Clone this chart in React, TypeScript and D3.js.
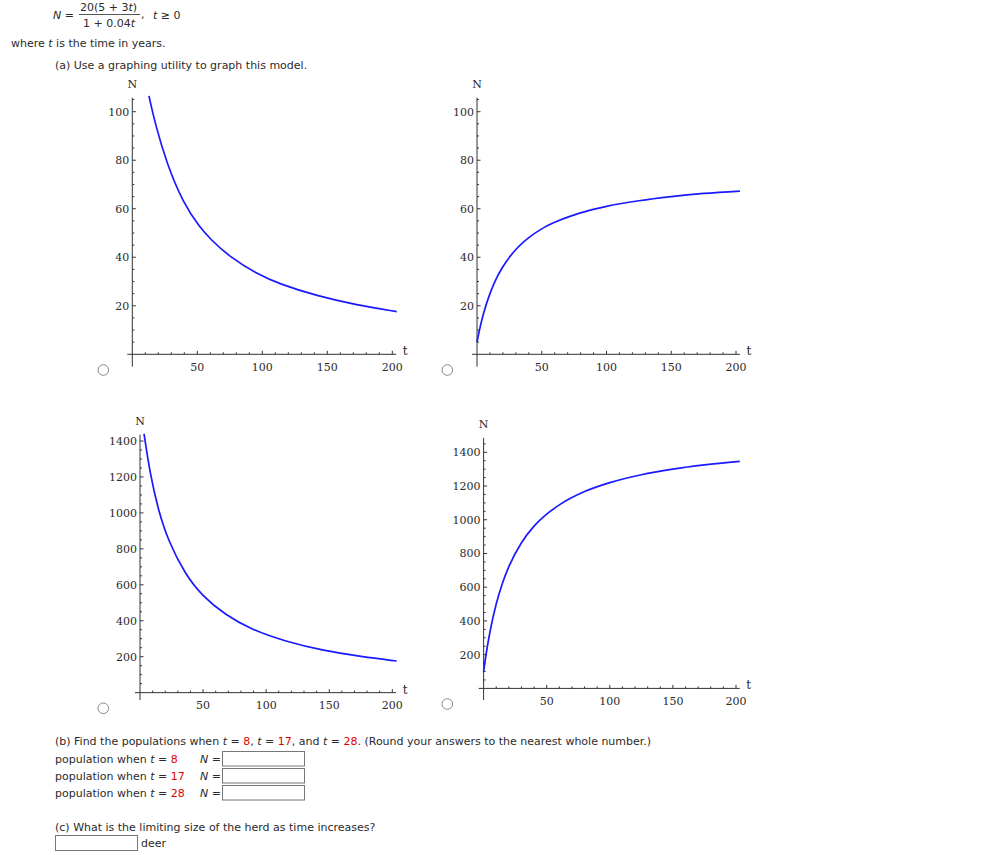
import React from "react";
import * as d3 from "d3";

// ---- data ----
const xTickValues = [50, 100, 150, 200];
const smallYTicks = [20, 40, 60, 80, 100];
const largeYTicks = [200, 400, 600, 800, 1000, 1200, 1400];

// panel (top-left): decreasing, small scale
const p1T = [12.8, 17.5, 26.4, 39.2, 52, 59.8, 75.2, 95.7, 113.6, 141.8, 172.6, 203.4];
const p1N = [106.5, 95.2, 78.8, 62.3, 52.3, 47.6, 40.0, 33.2, 28.9, 24.1, 20.3, 17.6];

// panel (top-right): increasing, small scale
const p2T = [0, 2, 5, 10, 15, 20, 30, 40, 50, 60, 80, 100, 125, 150, 175, 203];
const p2N = [5, 10.2, 16.7, 25, 31.3, 36.1, 43.2, 48.1, 51.7, 54.4, 58.3, 61, 63.3, 65, 66.3, 67.3];

// panel (bottom-left): decreasing, large scale
const p3T = [3.2, 7.9, 14.5, 22.4, 35.7, 48.9, 67.4, 88.5, 115.4, 144.1, 176, 203.5];
const p3N = [1440, 1220, 1015, 845, 660, 541, 434, 350, 285, 236, 199, 176];

// panel (bottom-right): increasing, large scale
const p4T = [0, 2, 5, 10, 15, 20, 30, 40, 50, 60, 80, 100, 125, 150, 175, 203];
const p4N = [100, 204, 333, 500, 625, 722, 864, 962, 1033, 1088, 1167, 1220, 1267, 1300, 1325, 1346];

// ---- layout ----
type PanelCfg = {
  t: number[];
  n: number[];
  xPx: [number, number];
  yDomainMax: number;
  yPx: [number, number];
  yTicks: number[];
  yMinorStep: number;
  yTopVal: number;
  stubBottom: number;
  radio: [number, number];
  curve: d3.CurveFactory;
};

const panels: PanelCfg[] = [
  { t: p1T, n: p1N, xPx: [132.3, 392.3], yDomainMax: 100, yPx: [354.3, 111.7], yTicks: smallYTicks, yMinorStep: 5, yTopVal: 105.8, stubBottom: 366.7, radio: [103.3, 370], curve: d3.curveBasis },
  { t: p2T, n: p2N, xPx: [477, 736], yDomainMax: 100, yPx: [354.3, 111.7], yTicks: smallYTicks, yMinorStep: 5, yTopVal: 105.8, stubBottom: 366.7, radio: [447.3, 370], curve: d3.curveMonotoneX },
  { t: p3T, n: p3N, xPx: [140, 392.3], yDomainMax: 1400, yPx: [692.65, 441], yTicks: largeYTicks, yMinorStep: 50, yTopVal: 1435, stubBottom: 700, radio: [103.3, 708.3], curve: d3.curveBasis },
  { t: p4T, n: p4N, xPx: [483.6, 736], yDomainMax: 1400, yPx: [688.4, 452.3], yTicks: largeYTicks, yMinorStep: 50, yTopVal: 1485, stubBottom: 700, radio: [447.3, 704], curve: d3.curveMonotoneX },
];

const AXIS = "#333";
const TXT = "#2b2b2b";
const SERIF = "'DejaVu Serif', serif";
const SANS = "'DejaVu Sans', Verdana, sans-serif";
const RED = "#e00000";

function Panel({ cfg }: { cfg: PanelCfg }) {
  const x = d3.scaleLinear().domain([0, 200]).range(cfg.xPx);
  const y = d3.scaleLinear().domain([0, cfg.yDomainMax]).range(cfg.yPx);
  const x0 = x(0);
  const y0 = y(0);
  const xEnd = x(203);
  const yTop = y(cfg.yTopVal);
  const minorX = d3.range(10, 201, 10).filter((v) => v % 50 !== 0);
  const minorY = d3.range(cfg.yMinorStep, cfg.yTopVal, cfg.yMinorStep).filter((v) => !cfg.yTicks.includes(v));
  const pts: [number, number][] = cfg.t.map((t, i) => [t, cfg.n[i]]);
  const line = d3
    .line<[number, number]>()
    .x((d) => x(d[0]))
    .y((d) => y(d[1]))
    .curve(cfg.curve);
  return (
    <g>
      {/* axes */}
      <line x1={x0 - 5} x2={xEnd} y1={y0} y2={y0} stroke={AXIS} strokeWidth={1} />
      <line x1={x0} x2={x0} y1={yTop} y2={cfg.stubBottom} stroke={AXIS} strokeWidth={1} />
      {/* x ticks */}
      {minorX.map((v) => (
        <line key={"mx" + v} x1={x(v)} x2={x(v)} y1={y0} y2={y0 - 2} stroke={AXIS} strokeWidth={1} />
      ))}
      {xTickValues.map((v) => (
        <g key={"x" + v}>
          <line x1={x(v)} x2={x(v)} y1={y0} y2={y0 - 3.5} stroke={AXIS} strokeWidth={1} />
          <text x={x(v)} y={y0 + 16.5} textAnchor="middle" fontFamily={SERIF} fontSize={11} fill={TXT}>
            {v}
          </text>
        </g>
      ))}
      {/* y ticks */}
      {minorY.map((v) => (
        <line key={"my" + v} x1={x0} x2={x0 + 2} y1={y(v)} y2={y(v)} stroke={AXIS} strokeWidth={1} />
      ))}
      {cfg.yTicks.map((v) => (
        <g key={"y" + v}>
          <line x1={x0} x2={x0 + 3.5} y1={y(v)} y2={y(v)} stroke={AXIS} strokeWidth={1} />
          <text x={x0 - 3} y={y(v) + 4} textAnchor="end" fontFamily={SERIF} fontSize={11} fill={TXT}>
            {v}
          </text>
        </g>
      ))}
      {/* axis labels */}
      <text x={x0} y={yTop - 9.5} textAnchor="middle" fontFamily={SERIF} fontSize={11} fill={TXT}>
        N
      </text>
      <text x={xEnd + 9} y={y0 + 1} textAnchor="middle" fontFamily={SERIF} fontSize={12} fill={TXT}>
        t
      </text>
      {/* curve */}
      <path d={line(pts) || ""} fill="none" stroke="#1a1aff" strokeWidth={1.7} />
      {/* radio button */}
      <circle cx={cfg.radio[0]} cy={cfg.radio[1]} r={5.3} fill="#fff" stroke="#8a8a8a" strokeWidth={1} />
    </g>
  );
}

function It({ children }: { children: React.ReactNode }) {
  return <tspan fontStyle="italic">{children}</tspan>;
}
function Red({ children }: { children: React.ReactNode }) {
  return <tspan fill={RED}>{children}</tspan>;
}

const popRows = [
  { t: "8", base: 763, box: 751.5 },
  { t: "17", base: 780, box: 768.5 },
  { t: "28", base: 797, box: 785.5 },
];

export default function App() {
  const fs = 11;
  return (
    <svg
      width={1007}
      height={855}
      style={{ position: "absolute", left: 0, top: 0, background: "#fff" }}
      fontFamily={SANS}
    >
      <rect x={0} y={0} width={1007} height={855} fill="#fff" />
      {/* formula */}
      <text x={53} y={19} fontSize={fs} fill={TXT}>
        <It>N</It> =
      </text>
      <text x={80} y={10.5} fontSize={fs} fill={TXT}>
        20(5 + 3<It>t</It>)
      </text>
      <line x1={79} x2={140} y1={14.5} y2={14.5} stroke={TXT} strokeWidth={0.8} />
      <text x={83} y={26.5} fontSize={fs} fill={TXT}>
        1 + 0.04<It>t</It>
      </text>
      <text x={141} y={18} fontSize={fs} fill={TXT}>
        ,
      </text>
      <text x={153} y={19} fontSize={fs} fill={TXT}>
        <It>t</It> ≥ 0
      </text>
      <text x={11} y={47} fontSize={fs} fill={TXT}>
        where <It>t</It> is the time in years.
      </text>
      <text x={55} y={69} fontSize={fs} fill={TXT}>
        (a) Use a graphing utility to graph this model.
      </text>

      {panels.map((p, i) => (
        <Panel key={i} cfg={p} />
      ))}

      {/* part (b) */}
      <text x={55} y={745} fontSize={fs} fill={TXT}>
        (b) Find the populations when <It>t</It> = <Red>8</Red>, <It>t</It> = <Red>17</Red>, and <It>t</It> ={" "}
        <Red>28</Red>. (Round your answers to the nearest whole number.)
      </text>
      {popRows.map((r) => (
        <g key={r.t}>
          <text x={55} y={r.base} fontSize={fs} fill={TXT}>
            population when <It>t</It> = <Red>{r.t}</Red>
          </text>
          <text x={200} y={r.base} fontSize={fs} fill={TXT}>
            <It>N</It> =
          </text>
          <rect x={222.5} y={r.box} width={82} height={14.5} fill="#fff" stroke="#777" strokeWidth={1} />
        </g>
      ))}

      {/* part (c) */}
      <text x={55} y={831} fontSize={fs} fill={TXT}>
        (c) What is the limiting size of the herd as time increases?
      </text>
      <rect x={55.5} y={835.5} width={82} height={15} fill="#fff" stroke="#777" strokeWidth={1} />
      <text x={141} y={847} fontSize={fs} fill={TXT}>
        deer
      </text>
    </svg>
  );
}
